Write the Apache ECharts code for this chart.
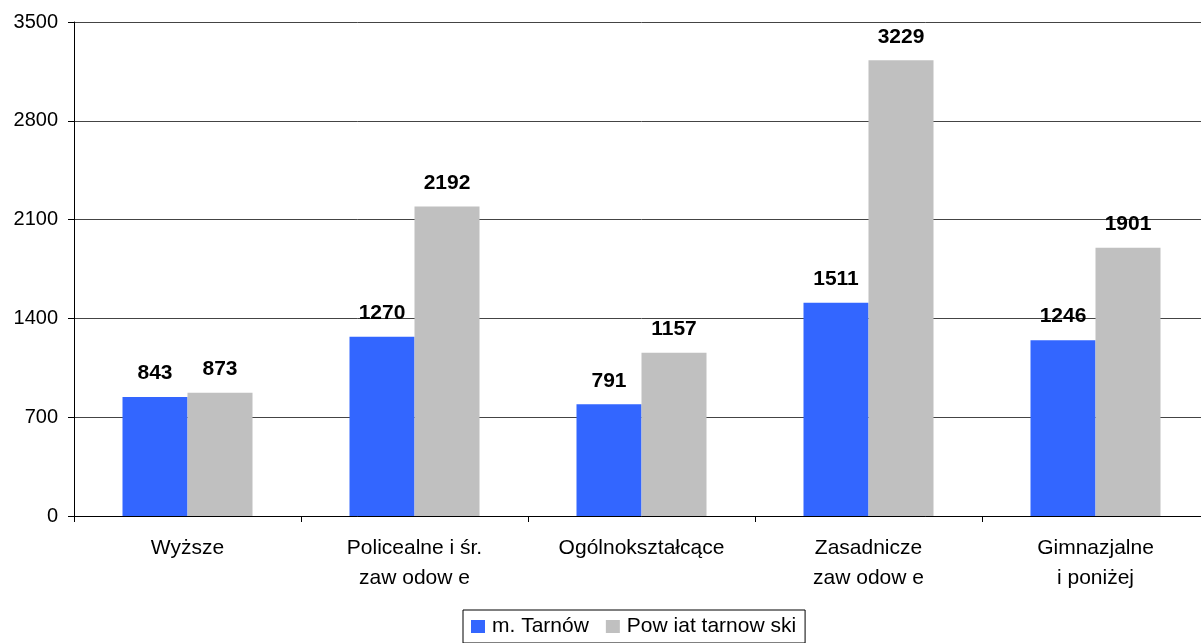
<!DOCTYPE html>
<html>
<head>
<meta charset="utf-8">
<script src="https://cdn.jsdelivr.net/npm/echarts@6/dist/echarts.min.js"></script>
<style>html,body{margin:0;padding:0;background:#fff;overflow:hidden}#c{width:1209px;height:643px}</style>
</head>
<body>
<div id="c"></div>
<script>
var categories = ['Wyższe', 'Policealne i śr.\nzaw odow e', 'Ogólnokształcące', 'Zasadnicze\nzaw odow e', 'Gimnazjalne\ni poniżej'];
var seriesNames = ['m. Tarnów', 'Pow iat tarnow ski'];
var tarnow = [843, 1270, 791, 1511, 1246];
var powiat = [873, 2192, 1157, 3229, 1901];
var yTicks = [0, 700, 1400, 2100, 2800, 3500];

var chart = echarts.init(document.getElementById('c'));
var font = 'Liberation Sans, Arial, sans-serif';
var lbl = {show: true, position: 'top', distance: 13, fontFamily: font, fontSize: 21, fontWeight: 'bold', color: '#000'};
chart.setOption({
  animation: false,
  backgroundColor: '#fff',
  grid: {left: 74, right: 0, top: 22, bottom: 127, containLabel: false},
  legend: {
    top: 610, left: 463,
    data: seriesNames,
    itemWidth: 14, itemHeight: 13, itemGap: 17,
    icon: 'rect',
    borderColor: '#000', borderWidth: 1,
    padding: [6, 9, 6, 8],
    textStyle: {fontFamily: font, fontSize: 21, color: '#000', padding: [0, 0, 0, 2]}
  },
  xAxis: {
    type: 'category', data: categories,
    axisLine: {lineStyle: {color: '#000', width: 1}},
    axisTick: {show: true, length: 6, lineStyle: {color: '#000'}},
    axisLabel: {fontFamily: font, fontSize: 21, color: '#000', margin: 17, lineHeight: 30, interval: 0}
  },
  yAxis: {
    type: 'value', min: yTicks[0], max: yTicks[yTicks.length - 1], interval: 700,
    axisLine: {show: true, lineStyle: {color: '#000'}},
    axisTick: {show: true, length: 6, lineStyle: {color: '#000'}},
    axisLabel: {fontFamily: font, fontSize: 20, color: '#000', margin: 16, formatter: function (v) { return String(v); }},
    splitLine: {show: true, lineStyle: {color: '#444', width: 1}}
  },
  series: [
    {name: seriesNames[0], type: 'bar', data: tarnow, barWidth: 65, barGap: '0%', itemStyle: {color: '#3366FF'}, label: lbl},
    {name: seriesNames[1], type: 'bar', data: powiat, barWidth: 65, barGap: '0%', itemStyle: {color: '#C0C0C0'}, label: lbl}
  ]
});
</script>
</body>
</html>
